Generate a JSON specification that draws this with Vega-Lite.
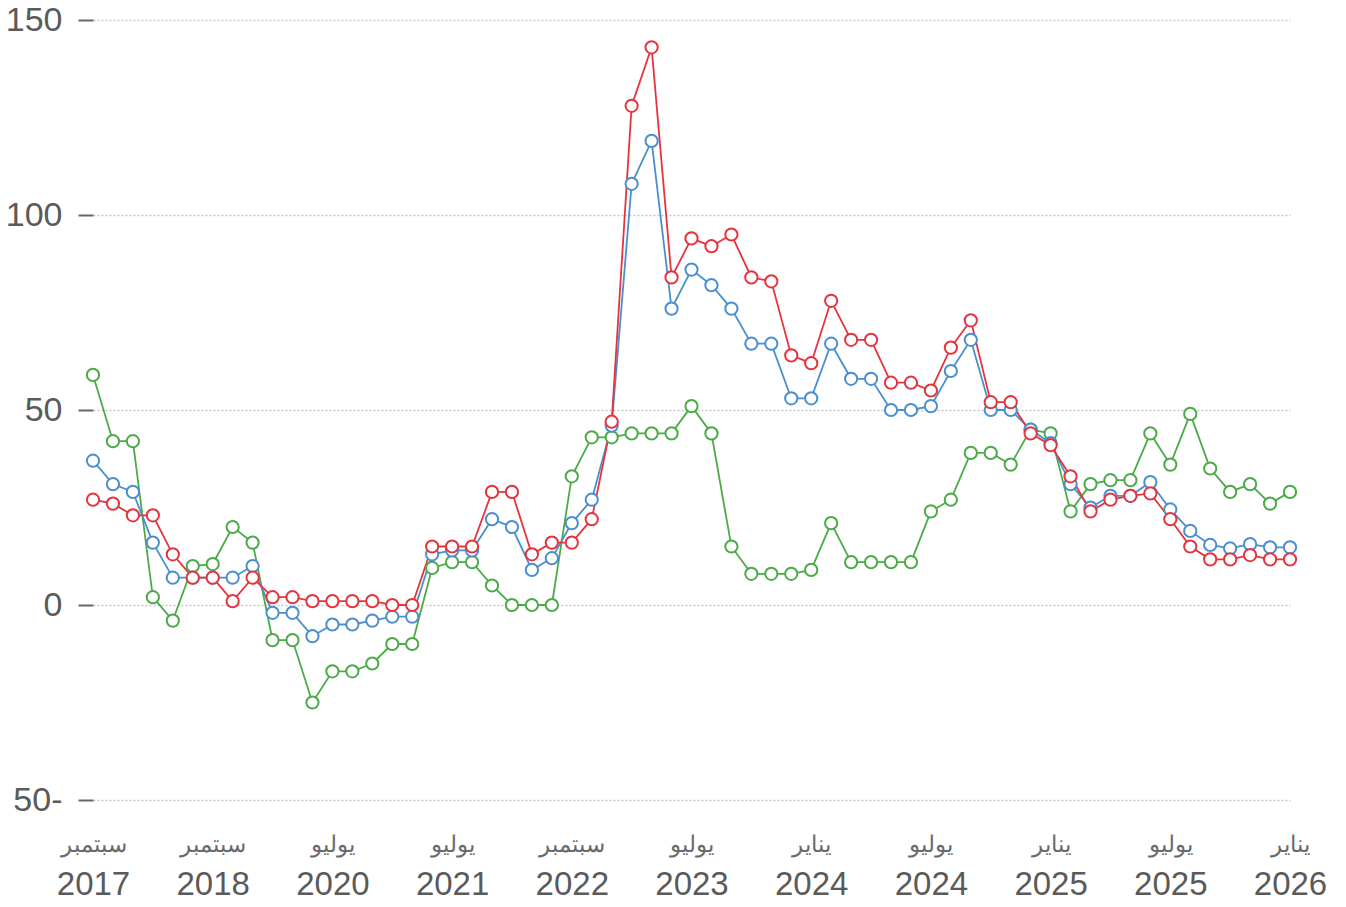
{
  "$schema": "https://vega.github.io/schema/vega-lite/v6.json",
  "autosize": {"type": "none"},
  "width": 1197,
  "height": 780,
  "padding": {"left": 93, "top": 20, "right": 56, "bottom": 107},
  "background": "white",
  "config": {"view": {"stroke": null}, "font": "Liberation Sans"},
  "data": {"values": [
    {"i":0,"A":37,"B":27,"C":59},
    {"i":1,"A":31,"B":26,"C":42},
    {"i":2,"A":29,"B":23,"C":42},
    {"i":3,"A":16,"B":23,"C":2},
    {"i":4,"A":7,"B":13,"C":-4},
    {"i":5,"A":7,"B":7,"C":10},
    {"i":6,"A":7,"B":7,"C":10.5},
    {"i":7,"A":7,"B":1,"C":20},
    {"i":8,"A":10,"B":7,"C":16},
    {"i":9,"A":-2,"B":2,"C":-9},
    {"i":10,"A":-2,"B":2,"C":-9},
    {"i":11,"A":-8,"B":1,"C":-25},
    {"i":12,"A":-5,"B":1,"C":-17},
    {"i":13,"A":-5,"B":1,"C":-17},
    {"i":14,"A":-4,"B":1,"C":-15},
    {"i":15,"A":-3,"B":0,"C":-10},
    {"i":16,"A":-3,"B":0,"C":-10},
    {"i":17,"A":13,"B":15,"C":9.5},
    {"i":18,"A":14,"B":15,"C":11},
    {"i":19,"A":14,"B":15,"C":11},
    {"i":20,"A":22,"B":29,"C":5},
    {"i":21,"A":20,"B":29,"C":0},
    {"i":22,"A":9,"B":13,"C":0},
    {"i":23,"A":12,"B":16,"C":0},
    {"i":24,"A":21,"B":16,"C":33},
    {"i":25,"A":27,"B":22,"C":43},
    {"i":26,"A":46,"B":47,"C":43},
    {"i":27,"A":108,"B":128,"C":44},
    {"i":28,"A":119,"B":143,"C":44},
    {"i":29,"A":76,"B":84,"C":44},
    {"i":30,"A":86,"B":94,"C":51},
    {"i":31,"A":82,"B":92,"C":44},
    {"i":32,"A":76,"B":95,"C":15},
    {"i":33,"A":67,"B":84,"C":8},
    {"i":34,"A":67,"B":83,"C":8},
    {"i":35,"A":53,"B":64,"C":8},
    {"i":36,"A":53,"B":62,"C":9},
    {"i":37,"A":67,"B":78,"C":21},
    {"i":38,"A":58,"B":68,"C":11},
    {"i":39,"A":58,"B":68,"C":11},
    {"i":40,"A":50,"B":57,"C":11},
    {"i":41,"A":50,"B":57,"C":11},
    {"i":42,"A":51,"B":55,"C":24},
    {"i":43,"A":60,"B":66,"C":27},
    {"i":44,"A":68,"B":73,"C":39},
    {"i":45,"A":50,"B":52,"C":39},
    {"i":46,"A":50,"B":52,"C":36},
    {"i":47,"A":45,"B":44,"C":45},
    {"i":48,"A":41.5,"B":41,"C":44},
    {"i":49,"A":31,"B":33,"C":24},
    {"i":50,"A":25,"B":24,"C":31},
    {"i":51,"A":28,"B":27,"C":32},
    {"i":52,"A":28,"B":28,"C":32},
    {"i":53,"A":31.5,"B":28.6,"C":44},
    {"i":54,"A":24.5,"B":22,"C":36},
    {"i":55,"A":19,"B":15,"C":49},
    {"i":56,"A":15.4,"B":11.7,"C":35},
    {"i":57,"A":14.5,"B":11.7,"C":29},
    {"i":58,"A":15.6,"B":12.8,"C":31},
    {"i":59,"A":14.8,"B":11.7,"C":26},
    {"i":60,"A":14.8,"B":11.7,"C":29}
  ]},
  "transform": [{"fold": ["C", "A", "B"], "as": ["series", "value"]}],
  "encoding": {
    "y": {
      "field": "value", "type": "quantitative",
      "scale": {"domain": [-50, 150], "nice": false, "zero": false},
      "axis": {
        "title": null,
        "values": [-50, 0, 50, 100, 150],
        "labelExpr": "datum.value < 0 ? (abs(datum.value) + '-') : datum.label",
        "domain": false,
        "ticks": true, "tickSize": 15, "tickWidth": 2, "tickColor": "#666666",
        "labelPadding": 16, "labelFontSize": 34, "labelColor": "#5a5a5a",
        "labelFont": "Liberation Sans",
        "grid": true, "gridColor": "#c8c8c8", "gridDash": [2, 2], "gridWidth": 1.5
      }
    },
    "color": {
      "field": "series", "type": "nominal",
      "scale": {"domain": ["A", "B", "C"], "range": ["#4a8fd0", "#e6343e", "#4aab48"]},
      "legend": null
    }
  },
  "layer": [
    {
      "mark": {"type": "line", "strokeWidth": 1.8, "interpolate": "linear"},
      "encoding": {
        "x": {
          "field": "i", "type": "quantitative",
          "scale": {"domain": [0, 60], "nice": false, "zero": false},
          "axis": {
            "title": null, "orient": "bottom",
            "values": [0, 6, 12, 18, 24, 30, 36, 42, 48, 54, 60],
            "labelExpr": "['سبتمبر','سبتمبر','يوليو','يوليو','سبتمبر','يوليو','يناير','يوليو','يناير','يوليو','يناير'][round(datum.value/6)]",
            "domain": false, "ticks": false, "grid": false,
            "labelFontSize": 23, "labelColor": "#6a6a6a", "labelPadding": 33,
            "labelFlush": false, "labelOverlap": false
          }
        }
      }
    },
    {
      "mark": {"type": "point", "shape": "circle", "filled": true, "fill": "white", "size": 150, "strokeWidth": 2, "opacity": 1},
      "encoding": {
        "x": {
          "field": "i", "type": "quantitative",
          "scale": {"domain": [0, 60], "nice": false, "zero": false},
          "axis": {
            "title": null, "orient": "bottom",
            "values": [0, 6, 12, 18, 24, 30, 36, 42, 48, 54, 60],
            "labelExpr": "['2017','2018','2020','2021','2022','2023','2024','2024','2025','2025','2026'][round(datum.value/6)]",
            "domain": false, "ticks": false, "grid": false,
            "labelFont": "Liberation Sans",
            "labelFontSize": 33, "labelColor": "#5a5a5a", "labelPadding": 68,
            "labelFlush": false, "labelOverlap": false
          }
        },
        "stroke": {"field": "series", "type": "nominal", "scale": {"domain": ["A", "B", "C"], "range": ["#4a8fd0", "#e6343e", "#4aab48"]}, "legend": null}
      }
    }
  ],
  "resolve": {"axis": {"x": "independent"}}
}
